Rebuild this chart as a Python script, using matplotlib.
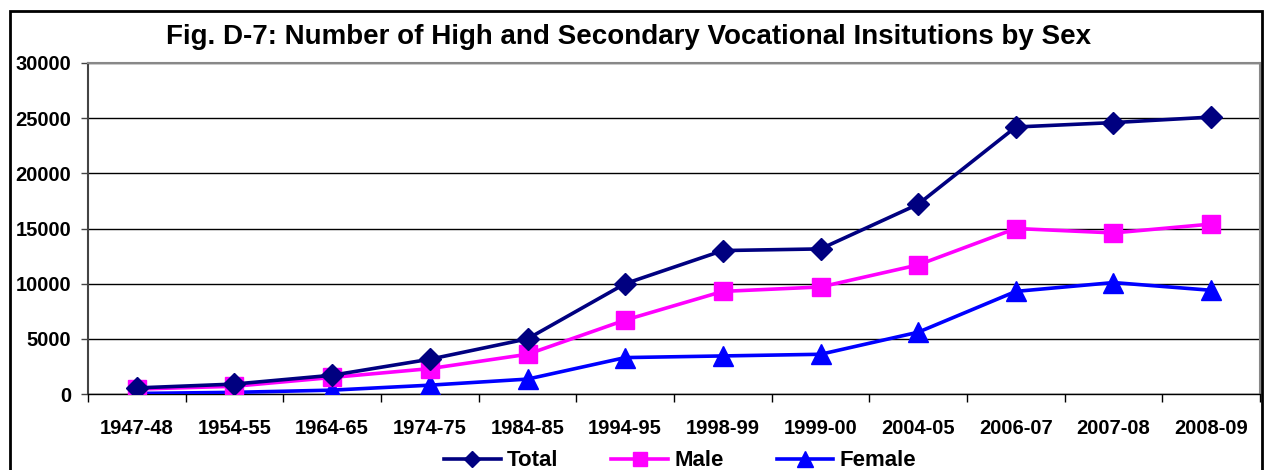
import matplotlib
matplotlib.use("Agg")
import matplotlib.pyplot as plt
from matplotlib.patches import Rectangle

years = ["1947-48", "1954-55", "1964-65", "1974-75", "1984-85", "1994-95",
         "1998-99", "1999-00", "2004-05", "2006-07", "2007-08", "2008-09"]
total = [550, 900, 1700, 3150, 5000, 10000, 13000, 13150, 17200, 24200, 24600, 25100]
male = [450, 700, 1500, 2300, 3600, 6700, 9300, 9700, 11700, 15000, 14600, 15400]
female = [50, 150, 350, 800, 1350, 3300, 3450, 3600, 5600, 9300, 10100, 9400]
yticks = [0, 5000, 10000, 15000, 20000, 25000, 30000]

plt.rcParams['font.family'] = ['Liberation Sans', 'DejaVu Sans']
plt.rcParams['font.weight'] = 'bold'

W, H = 1265, 470
fig = plt.figure(figsize=(W / 100, H / 100), dpi=100)
ax = fig.add_axes([88 / W, 1 - 394 / H, (1260 - 88) / W, (394 - 63) / H])

x = list(range(len(years)))
ax.plot(x, total, color='#000080', lw=2.6, marker='D', ms=11, label='Total', zorder=5)
ax.plot(x, male, color='#FF00FF', lw=2.6, marker='s', ms=13, label='Male', zorder=4)
ax.plot(x, female, color='#0000FF', lw=2.6, marker='^', ms=15, label='Female', zorder=3)

ax.set_xlim(-0.5, len(years) - 0.5)
ax.set_ylim(0, 30000)
ax.set_yticks(yticks)
ax.set_yticklabels([str(v) for v in yticks], fontsize=14.5, fontweight='bold')
ax.set_xticks(x)
ax.set_xticklabels(years, fontsize=14.5, fontweight='bold')
ax.tick_params(axis='x', length=0, pad=18)
ax.set_xticks([i - 0.5 for i in range(len(years) + 1)], minor=True)
ax.tick_params(axis='x', which='minor', length=6, width=1, color='black', direction='out')
ax.tick_params(axis='y', length=5, width=1, direction='out', color='#444444', pad=7)
ax.yaxis.grid(True, color='black', lw=1)
ax.set_axisbelow(True)
for s in ['top', 'right']:
    ax.spines[s].set_color('#888888')
    ax.spines[s].set_linewidth(1.5)
ax.spines['left'].set_color('#444444')
ax.spines['left'].set_linewidth(1.5)
ax.spines['bottom'].set_color('black')
ax.spines['bottom'].set_linewidth(1)

fig.text(628 / W, 1 - 37 / H, "Fig. D-7: Number of High and Secondary Vocational Insitutions by Sex",
         ha='center', va='center', fontsize=20, fontweight='bold')

fig.legend(loc='center', bbox_to_anchor=(680 / W, 1 - 461 / H), ncol=3, frameon=False,
           prop={'size': 16, 'weight': 'bold'}, handlelength=2.55, columnspacing=2.4,
           handletextpad=0.27, markerscale=0.75)

fig.patches.append(Rectangle((10 / W, -0.05), (1262 - 10) / W, 1 - 11 / H + 0.05,
                             transform=fig.transFigure, fill=False, lw=2, ec='black'))

fig.savefig('out.png', dpi=100)
